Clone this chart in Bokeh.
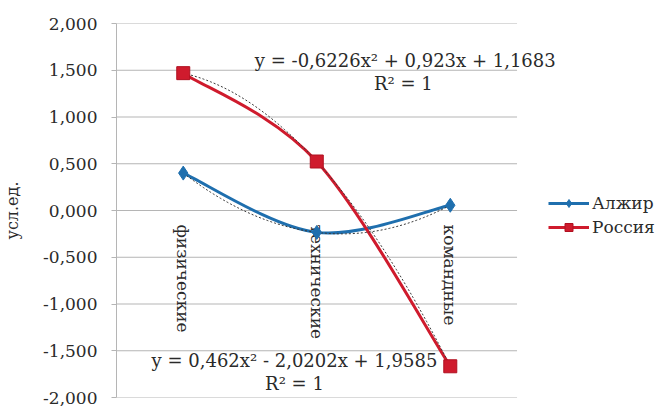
import numpy as np
from bokeh.plotting import figure
from bokeh.models import (FixedTicker, Legend, LegendItem, Label, ColumnDataSource,
                          Range1d)
from bokeh.embed import file_html
from bokeh.resources import INLINE
from bokeh.core.properties import value

# ---- data -------------------------------------------------------------
categories = ["физические", "технические", "командные"]
algeria = [0.400, -0.234, 0.056]
russia = [1.469, 0.524, -1.666]
series_names = ["Алжир", "Россия"]

y_ticks = [-2.0, -1.5, -1.0, -0.5, 0.0, 0.5, 1.0, 1.5, 2.0]
y_tick_labels = ["-2,000", "-1,500", "-1,000", "-0,500", "0,000",
                 "0,500", "1,000", "1,500", "2,000"]
y_title = "усл.ед."

# polynomial trendlines (highest power first) and their captions
trend_algeria = [0.462, -2.0202, 1.9585]
trend_russia = [-0.6226, 0.923, 1.1683]
eq_algeria = "y = 0,462x² - 2,0202x + 1,9585"
eq_russia = "y = -0,6226x² + 0,923x + 1,1683"
r2_text = "R² = 1"

# ---- styling ----------------------------------------------------------
FONT = "DejaVu Serif"
BLUE = "#1f6fae"
RED = "#cf1b2d"
GRID = "#b5b5b5"
TEXT = "#2a2a2a"

x_pos = [i + 1 for i in range(len(categories))]
x_lo, x_hi = 0.5, len(categories) + 0.5   # extent of the category band
x_view_hi = 4.552                          # room on the right for legend and captions


def smooth_segments(xs, ys):
    """Cubic Bezier pieces through the points (Catmull-Rom style)."""
    n = len(xs)
    seg = dict(x0=[], y0=[], x1=[], y1=[], cx0=[], cy0=[], cx1=[], cy1=[])
    for i in range(n - 1):
        a = max(i - 1, 0)
        b = min(i + 2, n - 1)
        seg["x0"].append(xs[i]); seg["y0"].append(ys[i])
        seg["x1"].append(xs[i + 1]); seg["y1"].append(ys[i + 1])
        seg["cx0"].append(xs[i] + (xs[i + 1] - xs[a]) / 6)
        seg["cy0"].append(ys[i] + (ys[i + 1] - ys[a]) / 6)
        seg["cx1"].append(xs[i + 1] - (xs[b] - xs[i]) / 6)
        seg["cy1"].append(ys[i + 1] - (ys[b] - ys[i]) / 6)
    return ColumnDataSource(seg)


p = figure(width=657, height=406, output_backend="svg", toolbar_location=None,
           x_range=Range1d(x_lo, x_view_hi), y_range=Range1d(-2, 2),
           min_border_left=110, min_border_right=0,
           min_border_top=23, min_border_bottom=9)
p.outline_line_color = None
p.background_fill_color = "white"
p.border_fill_color = "white"

p.xaxis.visible = False
p.xgrid.visible = False
p.ygrid.visible = False

# horizontal gridlines across the category band only
p.segment(x0=[x_lo] * len(y_ticks), x1=[x_hi] * len(y_ticks), y0=y_ticks, y1=y_ticks,
          line_color=GRID, line_width=1)

p.yaxis.ticker = FixedTicker(ticks=y_ticks)
p.yaxis.major_label_overrides = {t: s for t, s in zip(y_ticks, y_tick_labels)}
p.yaxis.axis_line_color = GRID
p.yaxis.major_tick_line_color = GRID
p.yaxis.major_tick_out = 5
p.yaxis.major_tick_in = 0
p.yaxis.minor_tick_line_color = None
p.yaxis.major_label_standoff = 14
p.yaxis.major_label_text_font = FONT
p.yaxis.major_label_text_font_size = "17px"
p.yaxis.major_label_text_color = TEXT
p.yaxis.axis_label = y_title
p.yaxis.axis_label_text_font = FONT
p.yaxis.axis_label_text_font_size = "16px"
p.yaxis.axis_label_text_font_style = "normal"
p.yaxis.axis_label_text_color = TEXT
p.yaxis.axis_label_standoff = 18

# category names, written downwards just under the zero line
p.text(x=x_pos, y=[-0.15] * len(categories), text=categories,
       angle=-np.pi / 2, text_align="left", text_baseline="middle",
       text_font=value(FONT), text_font_size="17px", text_color=TEXT)

# smoothed series lines
alg_line = p.bezier(x0="x0", y0="y0", x1="x1", y1="y1", cx0="cx0", cy0="cy0",
                    cx1="cx1", cy1="cy1", source=smooth_segments(x_pos, algeria),
                    line_color=BLUE, line_width=3)
rus_line = p.bezier(x0="x0", y0="y0", x1="x1", y1="y1", cx0="cx0", cy0="cy0",
                    cx1="cx1", cy1="cy1", source=smooth_segments(x_pos, russia),
                    line_color=RED, line_width=3)

# polynomial trendlines
tx = np.linspace(x_pos[0], x_pos[-1], 80)
p.line(tx, np.polyval(trend_algeria, tx), line_color="#3a3a3a",
       line_width=1, line_dash="2 2")
p.line(tx, np.polyval(trend_russia, tx), line_color="#3a3a3a",
       line_width=1, line_dash="2 2")

# markers
alg_pts = p.scatter(x_pos, algeria, marker="diamond", size=14,
                    fill_color=BLUE, line_color=BLUE)
rus_pts = p.scatter(x_pos, russia, marker="square", size=13,
                    fill_color=RED, line_color="#b01020")

legend = Legend(items=[LegendItem(label=series_names[0], renderers=[alg_line, alg_pts]),
                       LegendItem(label=series_names[1], renderers=[rus_line, rus_pts])],
                location=(432, 160), border_line_color=None,
                background_fill_alpha=0, padding=0, margin=0, spacing=4,
                glyph_width=41, glyph_height=20, label_standoff=3,
                label_text_font=FONT, label_text_font_size="17px",
                label_text_color=TEXT)
p.add_layout(legend)

# trendline equations
for x, y, t in [(2.663, 1.604, eq_russia), (2.648, 1.358, r2_text),
                (1.833, -1.604, eq_algeria), (1.833, -1.850, r2_text)]:
    p.add_layout(Label(x=x, y=y, text=t, text_align="center", text_baseline="middle",
                       text_font=FONT, text_font_size="18px", text_color=TEXT))

open("out.html", "w").write(file_html(p, INLINE))
